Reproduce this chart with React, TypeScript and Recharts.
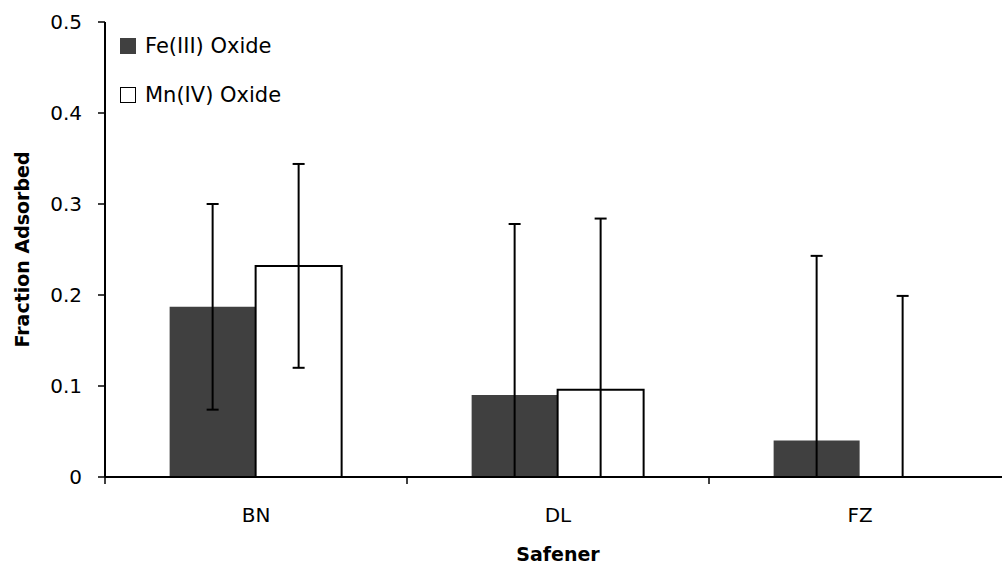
import React from 'react';
import { BarChart, Bar, XAxis, YAxis, ErrorBar, Legend, Label } from 'recharts';

const categories = ['BN', 'DL', 'FZ'];
const feValues = [0.187, 0.09, 0.04];
const feErrors = [0.113, 0.188, 0.203];
const mnValues = [0.232, 0.096, 0];
const mnErrors = [0.112, 0.188, 0.199];
const yTicks = [0, 0.1, 0.2, 0.3, 0.4, 0.5];

const FONT = '"DejaVu Sans", sans-serif';
const X_TICK_SIZE = 7;
const X_TICK_MARGIN = 24;

// lower whisker is clipped at the axis minimum, like Excel does.
// a zero bar is nudged by a hair so Recharts still places its error bar
const data = categories.map((name, i) => ({
  name,
  fe: feValues[i],
  feErr: [Math.min(feErrors[i], feValues[i]), feErrors[i]],
  mn: mnValues[i] || 1e-6,
  mnErr: [Math.min(mnErrors[i], mnValues[i]), mnErrors[i]],
}));

// category label + tick mark on the left edge of each band (Excel style)
const CategoryTick = (props: any) => {
  const { x, y, payload } = props;
  const half = payload?.offset ?? 0;
  const axisY = y - X_TICK_SIZE - X_TICK_MARGIN;
  return (
    <g>
      <line x1={x - half} x2={x - half} y1={axisY} y2={axisY + X_TICK_SIZE} stroke="#000" strokeWidth={1.5} />
      <text x={x} y={y} dy="0.71em" textAnchor="middle" fill="#000" fontSize={20} fontFamily={FONT}>
        {payload.value}
      </text>
    </g>
  );
};

const renderLegend = (props: any) => {
  const { payload = [] } = props;
  return (
    <div style={{ fontFamily: FONT, fontSize: 21, color: '#000' }}>
      {payload.map((entry: any) => (
        <div key={entry.value} style={{ display: 'flex', alignItems: 'center', height: 49 }}>
          <span
            style={{
              display: 'inline-block',
              width: 16,
              height: 16,
              boxSizing: 'border-box',
              background: entry.dataKey === 'fe' ? '#404040' : '#fff',
              border: entry.dataKey === 'fe' ? 'none' : '1.5px solid #000',
              marginRight: 9,
            }}
          />
          <span>{entry.value}</span>
        </div>
      ))}
    </div>
  );
};

export default function App() {
  return (
    <div
      style={{
        position: 'absolute',
        left: 0,
        top: 0,
        width: 1002,
        height: 567,
        overflow: 'hidden',
        background: '#fff',
        fontFamily: FONT,
      }}
    >
      <BarChart
        width={1020}
        height={567}
        data={data}
        margin={{ top: 22, right: 9, bottom: 0, left: 0 }}
        barCategoryGap="21.4%"
        barGap={0}
      >
        <XAxis
          dataKey="name"
          height={90}
          axisLine={{ stroke: '#000', strokeWidth: 2 }}
          tickLine={false}
          tickSize={X_TICK_SIZE}
          tickMargin={X_TICK_MARGIN}
          tick={<CategoryTick />}
        >
          <Label
            value="Safener"
            position="insideBottom"
            offset={6}
            style={{ fill: '#000', fontSize: 19, fontWeight: 700, fontFamily: FONT }}
          />
        </XAxis>
        <YAxis
          width={105}
          domain={[0, 0.5]}
          ticks={yTicks}
          allowDataOverflow
          tickSize={7}
          tickMargin={16}
          axisLine={{ stroke: '#000', strokeWidth: 2 }}
          tickLine={{ stroke: '#000', strokeWidth: 1.5 }}
          tick={{ fill: '#000', fontSize: 20, fontFamily: FONT }}
        >
          <Label
            value="Fraction Adsorbed"
            angle={-90}
            position="center"
            dx={-30}
            style={{ fill: '#000', fontSize: 19, fontWeight: 700, fontFamily: FONT }}
          />
        </YAxis>
        <Legend
          layout="vertical"
          align="center"
          verticalAlign="middle"
          content={renderLegend}
          wrapperStyle={{ left: 120, top: 21, width: 300, height: 100 }}
        />
        <Bar dataKey="fe" name="Fe(III) Oxide" fill="#404040" isAnimationActive={false}>
          <ErrorBar dataKey="feErr" width={6} stroke="#000" strokeWidth={2} direction="y" />
        </Bar>
        <Bar dataKey="mn" name="Mn(IV) Oxide" fill="#fff" stroke="#000" strokeWidth={2} isAnimationActive={false}>
          <ErrorBar dataKey="mnErr" width={6} stroke="#000" strokeWidth={2} direction="y" />
        </Bar>
      </BarChart>
    </div>
  );
}
